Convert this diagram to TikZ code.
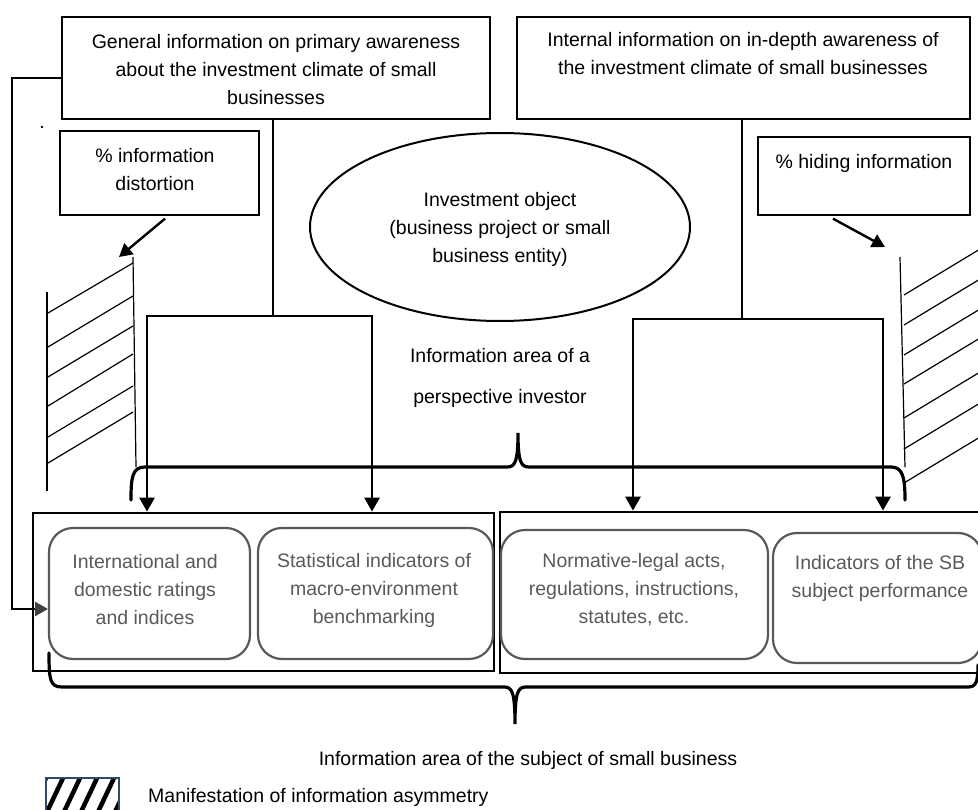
\documentclass[tikz,border=0pt]{standalone}
\usepackage{fontspec}
\setmainfont{Liberation Sans}
\usetikzlibrary{arrows.meta,shapes.geometric,calc}
\definecolor{gr}{HTML}{595959}
\definecolor{legblue}{HTML}{2E4A6B}
\begin{document}
\begin{tikzpicture}[x=1pt,y=-1pt,
  every node/.style={font=\fontsize{19.5}{28}\selectfont},
  bigbox/.style={draw, line width=2.8pt, inner sep=0pt},
  smallbox/.style={draw, line width=1.3pt, inner sep=0pt},
  rbox/.style={draw=gr, line width=2.2pt, rounded corners=24pt, inner sep=0pt},
  txt/.style={align=center, inner sep=0pt},
  gtxt/.style={txt, text=gr},
  conn/.style={line width=2.8pt},
  arr/.style={line width=2.8pt, -{Triangle[width=15pt,length=14pt]}},
  sarr/.style={line width=2.4pt, -{Triangle[width=14pt,length=13pt]}},
  hatchline/.style={line width=1.2pt},
  bracel/.style={line width=3.2pt, line cap=round}]
\useasboundingbox (0,0) rectangle (978,810);
\clip (0,0) rectangle (978,810);

% top boxes
\node[bigbox, minimum width=428pt, minimum height=102pt] (tl) at (276,68) {};
\node[txt] (tlt) at (276,70) {General information on primary awareness\\about the investment climate of small\\businesses};
\node[bigbox, minimum width=453pt, minimum height=102pt] (tr) at (743.5,68) {};
\node[txt] (trt) at (743,54) {Internal information on in-depth awareness of\\the investment climate of small businesses};

\node[inner sep=0pt] (dot) at (42,127) {.};

% small boxes
\node[smallbox, minimum width=199pt, minimum height=84pt] (dist) at (159.5,173) {};
\node[txt] (distt) at (155,170) {\% information\\distortion};
\node[smallbox, minimum width=212pt, minimum height=78pt] (hide) at (864,176) {};
\node[txt] (hidet) at (864,163) {\% hiding information};

% ellipse
\node[ellipse, draw, line width=2pt, minimum width=380pt, minimum height=188pt, inner sep=0pt] (obj) at (500,227) {};
\node[txt] (objt) at (500,229) {Investment object\\(business project or small\\business entity)};

\node[txt] (area) at (500,378) {Information area of a\\[13pt]perspective investor};

% bottom outer boxes
\node[bigbox, minimum width=461pt, minimum height=158pt] (ob1) at (263.5,592) {};
\node[bigbox, minimum width=500pt, minimum height=161pt] (ob2) at (750,592.5) {};

% rounded inner boxes
\node[rbox, minimum width=201pt, minimum height=131pt] (b1) at (149.5,593.5) {};
\node[gtxt] (b1t) at (145,590) {International and\\domestic ratings\\and indices};
\node[rbox, minimum width=235pt, minimum height=131pt] (b2) at (375.5,593.5) {};
\node[gtxt] (b2t) at (374,590) {Statistical indicators of\\macro-environment\\benchmarking};
\node[rbox, minimum width=267pt, minimum height=129pt] (b3) at (634.5,594.5) {};
\node[gtxt] (b3t) at (634,590) {Normative-legal acts,\\regulations, instructions,\\statutes, etc.};
\node[rbox, minimum width=209pt, minimum height=130pt] (b4) at (877.5,598) {};
\node[gtxt] (b4t) at (880,578) {Indicators of the SB\\subject performance};

\node[txt] (sbarea) at (528,760) {Information area of the subject of small business};

% legend
\node[draw=legblue, line width=1.5pt, minimum width=73pt, minimum height=36pt, inner sep=0pt,
  path picture={\foreach \i in {-3,...,5} \draw[black, line width=4.5pt] ([xshift=\i*17pt]path picture bounding box.south west) -- ++(18pt,38pt);}] (leg) at (82.5,796) {};
\node[anchor=west, inner sep=0pt] (legt) at (148,797) {Manifestation of information asymmetry};

% connectors from top-left box
\coordinate (jL) at (273,316);
\coordinate (jLa) at (147,316);
\coordinate (jLb) at (372,316);
\draw[arr] (tl.south -| jL) -- (jL) -| (ob1.north -| jLa);
\draw[arr] (jL) -| (ob1.north -| jLb);

% connectors from top-right box
\coordinate (jR) at (742,319);
\coordinate (jRa) at (633,319);
\coordinate (jRb) at (883,319);
\draw[arr] (tr.south -| jR) -- (jR) -| (ob2.north -| jRa);
\draw[arr] (jR) -| (ob2.north -| jRb);

% long left connector
\coordinate (lA) at (12,78);
\coordinate (lB) at (48,609);
\draw[conn, -{Triangle[width=14pt,length=13pt,fill=darkgray,color=darkgray]}] (tl.west |- lA) -- (lA) |- (lB);

% small arrows
\coordinate (hL) at (119,257);
\coordinate (hR) at (885,247);
\draw[sarr] ($(dist.south)+(5.5,3)$) -- (hL);
\draw[sarr] ($(hide.south)+(-31,3)$) -- (hR);

% left hatch
\draw[hatchline] (133,257) -- (136,467);
\draw[hatchline] (47,292) -- (47,491);
\foreach \ya/\yb in {313/263, 347/296, 377/326, 406/354, 437/386, 463/412}
  \draw[hatchline] (48,\ya) -- (133,\yb);

% right hatch
\draw[hatchline] (900,257) -- (905,467);
\foreach \ya in {295,325,355,384,418,449,483}
  \draw[hatchline] (904,\ya) -- (995,\ya-55);

% top brace
\draw[bracel] (131,500) .. controls (131,478) and (132,467) .. (145,467) -- (507,467)
  .. controls (515,467) and (518,462) .. (518,433)
  .. controls (518,462) and (521,467) .. (529,467) -- (891,467)
  .. controls (903,467) and (905,478) .. (905,500);

% bottom brace
\draw[bracel] (49,653) .. controls (49,680) and (50,687) .. (62,687) -- (504,687)
  .. controls (512,687) and (515,692) .. (515,724)
  .. controls (515,692) and (518,687) .. (526,687) -- (968,687)
  .. controls (976,687) and (978,682) .. (978,665);
\end{tikzpicture}
\end{document}
